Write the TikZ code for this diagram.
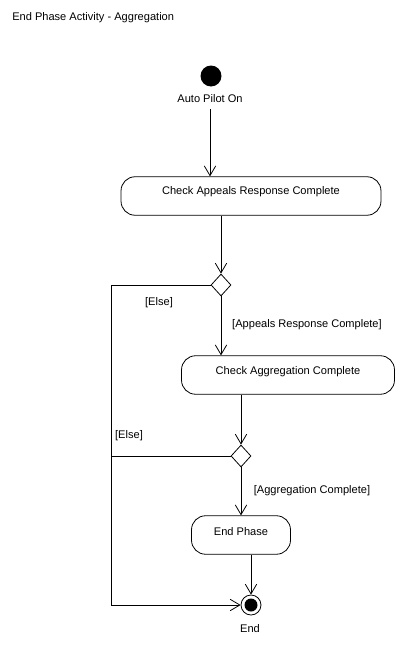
\documentclass[tikz,border=0pt]{standalone}
\usepackage{fontspec}
\setmainfont{Liberation Sans}
\usetikzlibrary{arrows.meta,shapes.geometric,positioning}
\tikzset{
  every picture/.style={draw=black, text=black},
  action/.style={draw, rounded corners=8pt, minimum height=0.77cm, inner sep=0pt},
  decision/.style={draw, diamond, minimum width=0.4cm, minimum height=0.44cm, inner sep=0pt},
  flow/.style={-{Straight Barb[length=5.5pt,width=6.5pt,line width=0.45pt]}},
}
\begin{document}
\begin{tikzpicture}[x=0.02cm, y=-0.02cm, line width=0.45pt,
  every node/.style={font=\fontsize{6.3}{7.5}\selectfont}]
\useasboundingbox (0,0) rectangle (406,646);
% Title
\node[anchor=west] (title) at (6,18) {End Phase Activity - Aggregation};
% Start
\node[circle, fill, minimum size=0.42cm, inner sep=0pt] (start) at (211,76) {};
\node (startlbl) at (210,99) {Auto Pilot On};
% Actions
\node[action, minimum width=5.2cm] (checkappeals) at (251,196) {};
\node[action, minimum width=4.26cm] (checkaggr) at (288,375) {};
\node[action, minimum width=1.98cm] (endphase) at (241,535) {};
\node (checkappealstxt) at (251,192) {Check Appeals Response Complete};
\node (checkaggrtxt) at (288,372) {Check Aggregation Complete};
\node (endphasetxt) at (241,532) {End Phase};
% Decisions
\node[decision] (dec1) at (221,285) {};
\node[decision] (dec2) at (241,456) {};
% Final
\node[circle, draw, minimum size=0.4cm, inner sep=0pt] (final) at (251,605) {};
\fill (final.center) circle (0.13cm);
\node (endlbl) at (250,629) {End};
\coordinate (corner) at (111,605);
% Flows
\draw[flow] (startlbl.south) -- (startlbl |- checkappeals.north);
\draw[flow] (dec1 |- checkappeals.south) -- (dec1.north);
\draw[flow] (dec1.south) -- (dec1 |- checkaggr.north);
\draw[flow] (dec2 |- checkaggr.south) -- (dec2.north);
\draw[flow] (dec2.south) -- (dec2 |- endphase.north);
\draw[flow] (final |- endphase.south) -- (final.north);
\draw[flow] (dec1.west) -- (corner |- dec1.west) -- (corner) -- (final.west);
\draw (dec2.west) -- (corner |- dec2.west);
% Guards
\node (else1) at (159,303) {[Else]};
\node (guard1) at (307,325) {[Appeals Response Complete]};
\node (else2) at (129,436) {[Else]};
\node (guard2) at (312,491) {[Aggregation Complete]};
\end{tikzpicture}
\end{document}
